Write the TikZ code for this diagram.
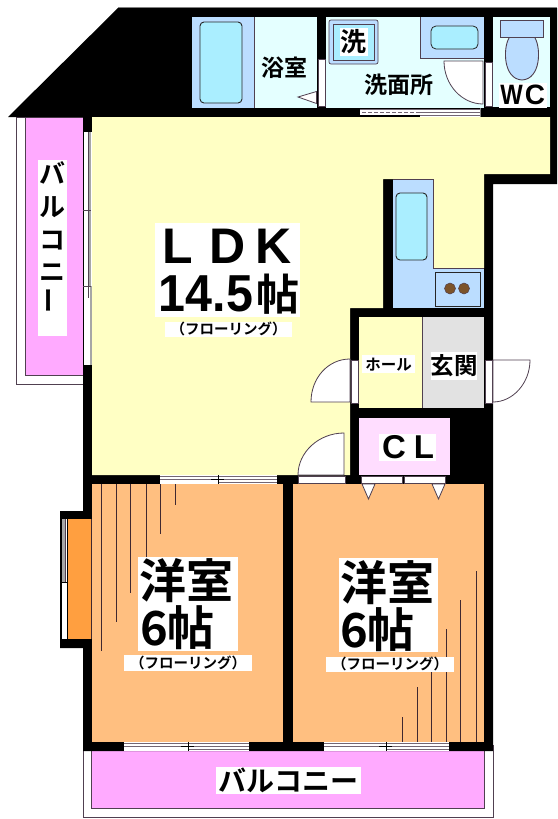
\documentclass[tikz,border=0pt]{standalone}
\usepackage{fontspec}
\setmainfont{Noto Sans CJK JP}[BoldFont={Noto Sans CJK JP Bold}]
\newfontfamily\latinb{Liberation Sans Bold}
\definecolor{cyellow}{HTML}{FFFFC4}
\definecolor{corange}{HTML}{FFBF80}
\definecolor{cbay}{HTML}{FF9F40}
\definecolor{cpink}{HTML}{FFAAFF}
\definecolor{cpale}{HTML}{FFDDFF}
\definecolor{cblue}{HTML}{BBDDFF}
\definecolor{ctub}{HTML}{AAEEFF}
\definecolor{cwet}{HTML}{E4FFFF}
\definecolor{cgray}{HTML}{E2E2E2}
\definecolor{cline}{HTML}{504050}
\definecolor{cflo}{HTML}{402830}
\newcommand\slidewin[4]{%
  \fill[white] (#1,#3) rectangle (#2,#3+9);
  \draw[winline] (#1,#3+1.2) -- (#2,#3+1.2);
  \draw[winline] (#1,#3+4.6) -- (#2,#3+4.6);
  \draw[winline] (#4,#3+7.8) -- (#2,#3+7.8);
  \draw[winline,black] (#4,#3) -- (#4,#3+9);
  \draw[winline,black] (#4-7,#3+4.6) -- (#4+6,#3+4.6);
}
\tikzset{
  room/.style={draw=cline,line width=0.6pt},
  fixture/.style={draw=black!85,line width=0.9pt,fill=ctub,rounded corners=4pt},
  doorleaf/.style={draw=cline,line width=0.8pt,fill=white},
  jamb/.style={draw=cline,line width=0.6pt,fill=white},
  winline/.style={draw=cline!80,line width=0.9pt},
  floorline/.style={draw=cflo,line width=1pt},
  outerline/.style={draw=cline,line width=0.9pt},
  lbl/.style={font=\bfseries,inner sep=0pt,text=black},
  bg/.style={fill=white,inner sep=0pt},
}
\begin{document}
\begin{tikzpicture}[x=1pt,y=-1pt]
\useasboundingbox (0,0) rectangle (557,819);
\fill[white] (0,0) rectangle (557,819);
% balconies (behind the walls)
\draw[outerline,fill=white] (16,117) rectangle (92,384);
\draw[room,fill=cpink,line width=0.9pt] (25,117) rectangle (83,375);
\draw[outerline,fill=white] (83,745) rectangle (493.5,817);
\draw[room,fill=cpink,line width=0.9pt] (91.5,745) rectangle (484,808);
% black silhouette
\fill[black] (118,8) -- (557,8) -- (557,184) -- (493,184) -- (493,751) -- (83,751)
  -- (83,648) -- (60,648) -- (60,511) -- (83,511) -- (83,117) -- (8,117) -- cycle;
\draw[gray,line width=0.6pt] (118,7.6) -- (557,7.6);
% bay window
\fill[cbay] (68,519) rectangle (91,639);
\fill[white] (61.5,519) rectangle (67,639);
\fill[gray!70] (61.5,519) rectangle (65.5,582);
\draw[cline,line width=0.8pt] (65.5,519) -- (65.5,583);
\draw[black,line width=0.8pt] (61,582) -- (67,582);
% LDK
\fill[cyellow] (92,117) -- (550,117) -- (550,174) -- (484,174) -- (484,268) -- (433,268)
  -- (433,179) -- (383,179) -- (383,308) -- (350,308) -- (350,475) -- (92,475) -- cycle;
% bath
\fill[cblue] (192,17) rectangle (254,108);
\fill[cwet] (254.5,17) rectangle (317,108);
\draw[cline,line width=0.6pt] (254.5,17) -- (254.5,108);
\draw[fixture] (200,22) rectangle (242,103);
% washroom
\fill[cwet] (326,17) rectangle (484,108);
\fill[cblue] (420,17) rectangle (484,58);
\draw[cline,line width=0.6pt] (420,17) -- (420,58) -- (484,58);
\draw[fixture,line width=0.8pt,rounded corners=5pt] (431,26) rectangle (478,49);
\draw[cline,line width=0.7pt,fill=cblue,rounded corners=2pt] (329,20) rectangle (378,64);
\draw[cline,line width=0.7pt,fill=ctub] (333,24) rectangle (374,60);
\node[bg,minimum width=28pt,minimum height=28pt] (washbg) at (353.5,42) {};
\node[lbl,font=\bfseries\fontsize{26}{26}\selectfont] (wash) at (353.5,42) {洗};
% bath door
\fill[white] (317.5,59) rectangle (325.5,106);
\draw[jamb] (318,59) rectangle (325,106);
\draw[doorleaf] (298,97) -- (316.5,91.5) -- (316.5,103.5) -- cycle;
% wash sliding door
\fill[white] (360,108.5) rectangle (480,117);
\fill[black] (360,114.5) rectangle (420,117);
\draw[winline] (360,109.5) -- (480,109.5);
\draw[winline] (420,112.5) -- (480,112.5);
\draw[winline] (420,115.5) -- (480,115.5);
\draw[cline!80,line width=0.8pt,dash pattern=on 3.5pt off 2.5pt] (362,112) -- (420,112);
\draw[gray,line width=0.6pt] (480,108) -- (480,117);
% WC
\fill[cwet] (493,17) rectangle (550,107);
\draw[jamb] (485,62) rectangle (492,106);
\draw[doorleaf] (444,61) -- (483,61) -- (483,104)
  .. controls (462,104) and (444,85) .. (444,61) -- cycle;
\draw[cline,line width=0.8pt,fill=cblue] (500,20.5) rectangle (543,37.5);
\draw[cline,line width=0.9pt,fill=cblue] (509,38) .. controls (503,48) and (503,79) .. (522,80)
  .. controls (541,79) and (541,48) .. (535,38);
% kitchen
\fill[cblue] (393,179) rectangle (433,308);
\fill[cblue] (393,268) rectangle (484,308);
\draw[cline,line width=0.6pt] (393,179) -- (433,179) -- (433,268) -- (484,268);
\draw[fixture] (396,193) rectangle (427,260);
\draw[black!85,line width=0.8pt,fill=cblue] (435,272.5) rectangle (480,306);
\draw[cline,fill=brown!65!black,line width=0.5pt] (450,288.5) circle[radius=5.5pt];
\draw[cline,fill=brown!65!black,line width=0.5pt] (464,288.5) circle[radius=5.5pt];
% hall, entrance
\fill[cyellow] (359,317) rectangle (422,408);
\fill[cgray] (422,317) rectangle (484,408);
\draw[cline,line width=0.6pt] (422,317) -- (422,408);
\draw[jamb] (351,360) rectangle (358,403);
\draw[doorleaf] (350,359) -- (350,402) -- (311,402)
  .. controls (311,378) and (328,359) .. (350,359) -- cycle;
\draw[jamb] (485,360) rectangle (492,403);
\draw[doorleaf] (493,360) -- (530,360) .. controls (530,383) and (513,402) .. (493,402) -- cycle;
% closet
\fill[cpale] (359,418) rectangle (450,475);
% bedrooms
\fill[corange] (92,484) rectangle (283,741.5);
\fill[corange] (293,484) rectangle (484,742);
\draw[jamb] (361,476) rectangle (402.5,483);
\draw[jamb] (404,476) rectangle (445,483);
\draw[doorleaf] (362,484) -- (375,484) -- (368.5,499) -- cycle;
\draw[doorleaf] (432,484) -- (445,484) -- (438.5,499) -- cycle;
\draw[jamb] (298,476) rectangle (345,483);
\draw[doorleaf] (344,433) -- (344,475) -- (298,475)
  .. controls (298,452) and (319,433) .. (344,433) -- cycle;
\draw[cflo,line width=0.6pt] (91.5,519) -- (91.5,639);
% floor lines
\foreach \fx/\fy in {101/651,116/622,130/593,146/557,160/534,175/505}
  \draw[floorline] (\fx,484) -- (\fx,\fy);
\foreach \fx/\fy in {402/717,417/687,431/672,446/629,460/600,476/571}
  \draw[floorline] (\fx,742) -- (\fx,\fy);
% windows
\slidewin{160}{277}{475}{218}
\slidewin{124}{249}{742}{188}
\slidewin{324}{449}{742}{386}
% LDK west window
\fill[white] (83.5,132) rectangle (91.5,365);
\fill[gray!70] (88,132) rectangle (91,286);
\draw[cline,line width=0.7pt] (88,132) -- (88,298);
\draw[gray!70,line width=1.2pt] (91,286) -- (91,365);
\draw[cline,line width=0.8pt] (83,210) -- (91,210);
\draw[cline,line width=0.8pt] (83,286) -- (91,286);
% labels: balcony west
\node[bg,minimum width=29pt,minimum height=176pt] (balwbg) at (52.5,248) {};
\node[lbl,font=\bfseries\fontsize{26}{26}\selectfont] (balw1) at (52.5,173) {バ};
\node[lbl,font=\bfseries\fontsize{26}{26}\selectfont] (balw2) at (52.5,207) {ル};
\node[lbl,font=\bfseries\fontsize{26}{26}\selectfont] (balw3) at (52.5,241) {コ};
\node[lbl,font=\bfseries\fontsize{26}{26}\selectfont] (balw4) at (52.5,273) {ニ};
\node[lbl,font=\bfseries\fontsize{26}{26}\selectfont,rotate=90] (balw5) at (52.5,300) {ー};
% labels: LDK
\node[bg,minimum width=145pt,minimum height=94pt] (ldkbg) at (227.5,270) {};
\node[lbl,font=\latinb\fontsize{50}{50}\selectfont] (ldkL) at (178,246) {L};
\node[lbl,font=\latinb\fontsize{50}{50}\selectfont] (ldkD) at (227.5,246) {D};
\node[lbl,font=\latinb\fontsize{50}{50}\selectfont] (ldkK) at (274,246) {K};
\node[lbl,font=\latinb\fontsize{52}{52}\selectfont,xscale=0.93] (ldkN) at (206,294) {14.5};
\node[lbl,font=\bfseries\fontsize{43}{43}\selectfont] (ldkT) at (277.5,294) {帖};
\node[bg,minimum width=127pt,minimum height=15pt] (ldkfbg) at (228.5,329.5) {};
\node[lbl,font=\fontsize{14.5}{14.5}\selectfont\bfseries] (ldkf) at (228.5,329) {（フローリング）};
% labels: wet rooms
\node[lbl,font=\bfseries\fontsize{23}{23}\selectfont] (bath) at (284.5,68) {浴室};
\node[lbl,font=\bfseries\fontsize{23}{23}\selectfont] (wroom) at (398.5,85) {洗面所};
\node[bg,minimum width=48pt,minimum height=25pt] (wcbg) at (522.5,95) {};
\node[lbl,font=\latinb\fontsize{28}{28}\selectfont,xscale=0.85] (wcW) at (511.5,95) {W};
\node[lbl,font=\latinb\fontsize{28}{28}\selectfont] (wcC) at (535,95) {C};
% labels: hall
\node[bg,minimum width=53pt,minimum height=18pt] (hallbg) at (388.5,364) {};
\node[lbl,font=\bfseries\fontsize{15.5}{15.5}\selectfont] (hall) at (388.5,365) {ホール};
\node[bg,minimum width=46pt,minimum height=28pt] (genbg) at (454,366) {};
\node[lbl,font=\bfseries\fontsize{23.5}{23.5}\selectfont] (gen) at (454,366) {玄関};
\node[bg,minimum width=57pt,minimum height=27pt] (clbg) at (407,447.5) {};
\node[lbl,font=\latinb\fontsize{33}{33}\selectfont] (clC) at (394,447.5) {C};
\node[lbl,font=\latinb\fontsize{33}{33}\selectfont] (clL) at (424,447.5) {L};
% labels: bedrooms
\node[bg,minimum width=100pt,minimum height=94pt] (w1bg) at (188,604) {};
\node[lbl,font=\bfseries\fontsize{47}{47}\selectfont] (w1a) at (186,581) {洋室};
\node[lbl,font=\bfseries\fontsize{47}{47}\selectfont,anchor=west] (w1b) at (140,628) {6帖};
\node[bg,minimum width=128pt,minimum height=16pt] (w1fbg) at (188,663) {};
\node[lbl,font=\fontsize{14.5}{14.5}\selectfont\bfseries] (w1f) at (188,662.5) {（フローリング）};
\node[bg,minimum width=99pt,minimum height=94pt] (w2bg) at (388.5,605) {};
\node[lbl,font=\bfseries\fontsize{47}{47}\selectfont] (w2a) at (387,583) {洋室};
\node[lbl,font=\bfseries\fontsize{47}{47}\selectfont,anchor=west] (w2b) at (340,630) {6帖};
\node[bg,minimum width=128pt,minimum height=15pt] (w2fbg) at (390,664.5) {};
\node[lbl,font=\fontsize{14.5}{14.5}\selectfont\bfseries] (w2f) at (390,664) {（フローリング）};
% labels: balcony south
\node[bg,minimum width=145pt,minimum height=27pt] (balsbg) at (288.5,780.5) {};
\node[lbl,font=\bfseries\fontsize{28}{28}\selectfont] (bals) at (288.5,780.5) {バルコニー};
\end{tikzpicture}
\end{document}
